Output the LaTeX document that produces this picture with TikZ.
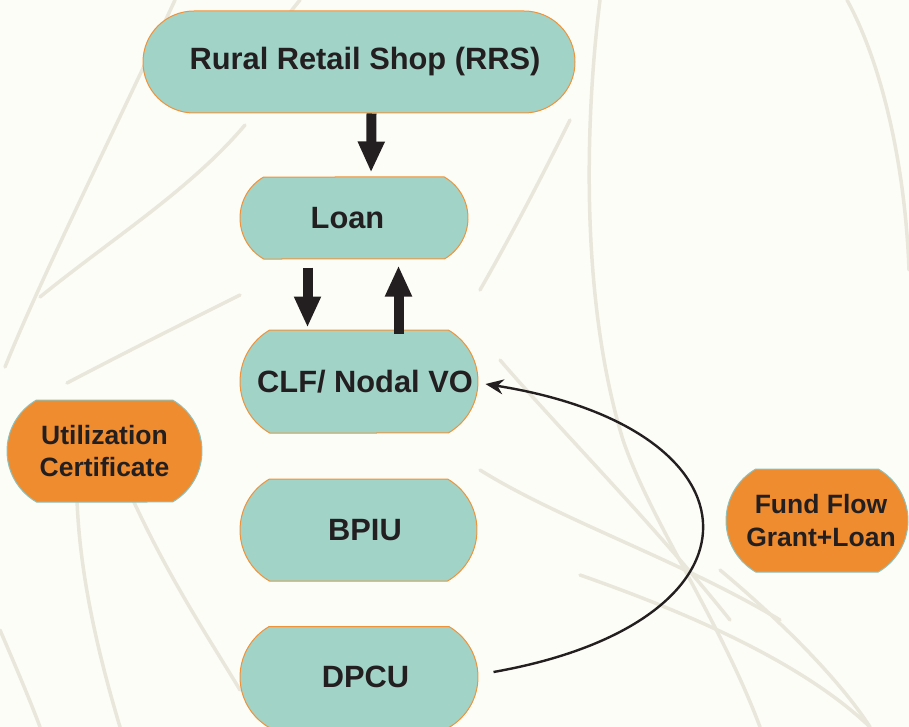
\documentclass[tikz,border=0pt]{standalone}
\usepackage{fontspec}
\setmainfont{Liberation Sans}
\usetikzlibrary{shapes.misc,arrows.meta}

\definecolor{paper}{HTML}{FDFDF7}
\definecolor{streak}{HTML}{E9E7DB}
\definecolor{tealfill}{HTML}{A1D3C7}
\definecolor{tealline}{HTML}{F0923A}
\definecolor{orangefill}{HTML}{EE8C2F}
\definecolor{orangeline}{HTML}{8FC0BA}
\definecolor{ink}{HTML}{231F20}

\tikzset{
  box/.style={rounded rectangle, rounded rectangle arc length=120,
    inner sep=0pt, line width=1pt, text=ink},
  tealbox/.style={box, fill=tealfill, draw=tealline,
    font=\bfseries\fontsize{30.8}{32}\selectfont},
  orangebox/.style={box, fill=orangefill, draw=orangeline, align=center,
    font=\bfseries\fontsize{26.5}{32.5}\selectfont},
  blockarrow/.style={draw=ink, line width=10pt,
    -{Triangle[width=25pt,length=31pt]}},
  curvearrow/.style={draw=ink, line width=2.4pt,
    -{Stealth[length=18pt,width=15pt]}},
  swirl/.style={draw=streak, line width=3.5pt, line cap=round},
}

\begin{document}
\begin{tikzpicture}[x=1pt,y=-1pt]
  % paper and frame
  \fill[paper] (0,0) rectangle (909,727);
  \useasboundingbox (0,0) rectangle (909,727);

  % faint swirling strokes in the paper
  \begin{scope}[swirl]
    \draw (5,367) .. controls (40,280) and (110,140) .. (175,0);
    \draw (40,297) .. controls (110,240) and (190,190) .. (245,125);
    \draw (67,383) .. controls (130,350) and (190,320) .. (240,295);
    \draw (77,500) .. controls (80,580) and (100,660) .. (120,727);
    \draw (133,500) .. controls (170,580) and (210,640) .. (240,690);
    \draw (0,630) .. controls (15,665) and (30,700) .. (40,727);
    \draw (230,110) .. controls (250,70) and (275,30) .. (300,0);
    \draw (847,0) .. controls (880,60) and (905,160) .. (909,270);
    \draw (600,0) .. controls (585,120) and (580,300) .. (623,440);
    \draw (623,440) .. controls (650,520) and (720,620) .. (760,727);
    \draw (480,470) .. controls (560,520) and (680,560) .. (780,620);
    \draw (500,360) .. controls (560,430) and (650,520) .. (730,620);
    \draw (580,575) .. controls (680,610) and (800,660) .. (870,727);
    \draw (720,570) .. controls (780,620) and (840,680) .. (870,727);
    \draw (480,290) .. controls (520,220) and (550,160) .. (570,120);
  \end{scope}

  % boxes (text nudged with struts and spaces inside each shape)
  \node[tealbox, rounded rectangle arc length=180,
        minimum width=432pt, minimum height=102pt]
        (rrs) at (359,62) {\hspace*{12pt}\raisebox{-2pt}{Rural Retail Shop (RRS)}};
  \node[tealbox, minimum width=228pt, minimum height=82pt]
        (loan) at (354,218) {\raisebox{-1pt}{Loan}\hspace*{13pt}};
  \node[tealbox, minimum width=238pt, minimum height=103pt]
        (clf) at (359,381.5) {\hspace*{12pt}\raisebox{-1.5pt}{CLF/ Nodal VO}};
  \node[tealbox, minimum width=237pt, minimum height=102pt]
        (bpiu) at (358.5,530) {\hspace*{13pt}\raisebox{-1.5pt}{BPIU}};
  \node[tealbox, minimum width=238pt, minimum height=101pt]
        (dpcu) at (359,677) {\hspace*{13pt}\raisebox{-1.5pt}{DPCU}};
  \node[orangebox, minimum width=195pt, minimum height=102pt]
        (util) at (104.5,451) {Utilization\\Certificate};
  \node[orangebox, minimum width=182pt, minimum height=103pt]
        (fund) at (817,520.5)
        {\hspace*{8pt}Fund Flow\\\hspace*{8pt}Grant+Loan};

  % block arrows between the upper boxes
  \draw[blockarrow, shorten >=4pt]
    ([xshift=12.5pt]rrs.south) -- ([xshift=17pt]loan.north);
  \draw[blockarrow, shorten <=8pt, shorten >=2pt]
    ([xshift=-46.5pt]loan.south) -- ([xshift=-51.5pt]clf.north);
  \draw[blockarrow, shorten <=-4pt, shorten >=6pt]
    ([xshift=39.5pt]clf.north) -- ([xshift=44.5pt]loan.south);

  % fund flow loop from DPCU back up to CLF
  \draw[curvearrow]
    ([xshift=15pt,yshift=5pt]dpcu.east)
      .. controls +(283,-50) and +(283,45) ..
    ([xshift=7pt,yshift=-2.5pt]clf.east);
\end{tikzpicture}
\end{document}
